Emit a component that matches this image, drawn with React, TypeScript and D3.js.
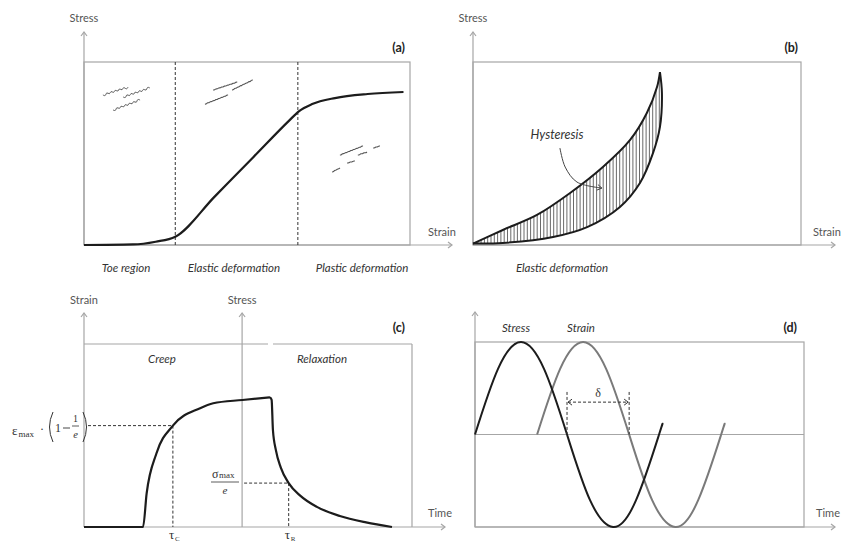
import React from "react";
import * as d3 from "d3";

// ---------- Panel (a): stress-strain curve ----------
const aStrain = [0, 15, 22, 28, 40, 52, 63, 66, 70, 77, 87, 98];
const aStress = [0, 0.3, 1.8, 4.5, 26.3, 48.1, 68.1, 73.2, 77, 80.3, 82.5, 83.6];
const aBoundaries = [28, 65.6];
const aRegionLabels = ["Toe region", "Elastic deformation", "Plastic deformation"];
const aRegionCenters = [12.9, 46, 85.3];
// fibre glyphs [x1, y1, x2, y2] in strain/stress units
const aCrimped = [
  [5.8, 82, 13.5, 86.3],
  [12, 80.9, 20.2, 85.8],
  [8.9, 73.8, 17.2, 79.2],
];
const aAligned = [
  [39.6, 84.7, 47, 89],
  [45.4, 84.7, 51.8, 90.2],
  [37.1, 77, 44.2, 82],
];
const aBroken = [
  [78.5, 49.2, 85.6, 54.1],
  [84, 49.2, 86.8, 50.8],
  [88.7, 53, 90.8, 54.1],
  [76.1, 39.9, 78.5, 42.1],
  [80.7, 44.8, 83.1, 45.9],
];

// ---------- Panel (b): hysteresis ----------
const bLoadStrain = [0, 9.1, 19.5, 29.6, 39.6, 47.9, 53, 56.1, 57];
const bLoadStress = [0.8, 8.2, 16.4, 28.4, 42.6, 57.4, 72.1, 86.3, 94.5];
const bUnloadStrain = [57, 57.6, 57, 54.9, 50.9, 44.8, 34.8, 24.4, 9.1, 0];
const bUnloadStress = [94.5, 83, 64.5, 50.3, 33.9, 20.8, 9.8, 4.4, 1.1, 0.8];
const bArrowX = [26.5, 28.1, 31.7, 39.3];
const bArrowY = [53, 42.6, 34.4, 31.1];

// ---------- Panel (c): creep & relaxation ----------
const cCreepTime = [0, 18, 19.1, 22.1, 27.1, 35.4, 39.4, 48.3, 56.7];
const cCreepStrain = [0, 0, 18.4, 40.3, 55.4, 64.9, 67.6, 69.4, 70.9];
const cRelaxTime = [56.7, 57.2, 57.6, 58.5, 60, 62.4, 66, 71, 78, 86, 93.9];
const cRelaxStress = [70.9, 69.5, 53, 42, 32.5, 24, 17, 11, 6, 2.5, 0];
const cTauC = 27.1;
const cCreepMark = 55.4;
const cTauR = 62.4;
const cRelaxMark = 24;

// ---------- Panel (d): dynamic loading ----------
const dStressT = [0, 0.5, 1, 1.5, 2, 2.5, 3, 3.5, 4, 4.06];
const dStressV = [0, 0.71, 1, 0.71, 0, -0.71, -1, -0.71, 0, 0.09];
const dStrainT = [1.35, 1.85, 2.35, 2.85, 3.35, 3.85, 4.35, 4.85, 5.35, 5.41];
const dStrainV = [0, 0.71, 1, 0.71, 0, -0.71, -1, -0.71, 0, 0.09];
const dDeltaFrom = 2;
const dDeltaTo = 3.35;

const GRAY = "#a6a6a6";
const INK = "#1c1c1c";
const SANS = "Lato, 'Open Sans', sans-serif";
const SERIF = "'Liberation Serif', 'DejaVu Serif', serif";

type Pt = [number, number];

function zip(xs: number[], ys: number[]): Pt[] {
  return xs.map((x, i) => [x, ys[i]] as Pt);
}

function chevronUp(x: number, y: number) {
  return `M${x - 3},${y + 4}L${x},${y}L${x + 3},${y + 4}`;
}
function chevronRight(x: number, y: number) {
  return `M${x - 4},${y - 3}L${x},${y}L${x - 4},${y + 3}`;
}

function wavy(x1: number, y1: number, x2: number, y2: number, wl: number, amp: number) {
  const dx = x2 - x1, dy = y2 - y1;
  const len = Math.hypot(dx, dy);
  const ux = dx / len, uy = dy / len;
  const nx = -uy, ny = ux;
  const n = Math.max(2, Math.round((len / wl) * 2));
  const pts: Pt[] = [];
  for (let i = 0; i <= n; i++) {
    const t = (i / n) * len;
    const o = i === 0 || i === n ? 0 : (i % 2 ? amp : -amp);
    pts.push([x1 + ux * t + nx * o, y1 + uy * t + ny * o]);
  }
  return d3.line().curve(d3.curveBasis)(pts) || "";
}

export default function App() {
  // scales
  const ax = d3.scaleLinear().domain([0, 100]).range([84, 410]);
  const ay = d3.scaleLinear().domain([0, 100]).range([245, 62]);
  const bx = d3.scaleLinear().domain([0, 100]).range([473, 801]);
  const by = d3.scaleLinear().domain([0, 100]).range([245, 62]);
  const cx = d3.scaleLinear().domain([0, 100]).range([84, 412]);
  const cy = d3.scaleLinear().domain([0, 100]).range([527, 344]);
  const dx = d3.scaleLinear().domain([0, 7.15]).range([475, 804]);
  const dy = d3.scaleLinear().domain([-1, 1]).range([527, 342]);

  const aLine = d3.line<Pt>().x(d => ax(d[0])).y(d => ay(d[1])).curve(d3.curveMonotoneX);
  const bLine = d3.line<Pt>().x(d => bx(d[0])).y(d => by(d[1])).curve(d3.curveCatmullRom);
  const cLine = d3.line<Pt>().x(d => cx(d[0])).y(d => cy(d[1])).curve(d3.curveMonotoneX);
  const dLine = d3.line<Pt>().x(d => dx(d[0])).y(d => dy(d[1])).curve(d3.curveNatural);

  const aPath = aLine(zip(aStrain, aStress)) || "";
  const loadPath = bLine(zip(bLoadStrain, bLoadStress)) || "";
  const unloadPath = bLine(zip(bUnloadStrain, bUnloadStress)) || "";
  const loopPath = loadPath + "L" + unloadPath.slice(1) + "Z";
  const hatchX = d3.range(bx(0) + 1.5, bx(58.5), 3.3);
  const arrowPath = d3.line<Pt>().x(d => bx(d[0])).y(d => by(d[1])).curve(d3.curveCatmullRom)(zip(bArrowX, bArrowY)) || "";
  const arrowEnd: Pt = [bx(bArrowX[3]), by(bArrowY[3])];

  const creepPath = cLine(zip(cCreepTime, cCreepStrain)) || "";
  const relaxPath = cLine(zip(cRelaxTime, cRelaxStress)) || "";

  const stressPath = dLine(zip(dStressT, dStressV)) || "";
  const strainPath = dLine(zip(dStrainT, dStrainV)) || "";

  const axisLbl = { fontFamily: SANS, fontSize: 11, fill: "#555" } as const;
  const italicLbl = { fontFamily: SANS, fontSize: 11.5, fill: "#333", fontStyle: "italic" } as const;
  const panelLbl = { fontFamily: SANS, fontSize: 12.5, fill: "#222", fontWeight: 700 } as const;
  const dash = { stroke: "#333", strokeWidth: 1, strokeDasharray: "3,2", fill: "none" } as const;

  return (
    <svg width={841} height={544} style={{ position: "absolute", left: 0, top: 0, background: "#fff" }}>
      {/* ================= Panel (a) ================= */}
      <g>
        <rect x={ax(0)} y={ay(100)} width={ax(100) - ax(0)} height={ay(0) - ay(100)} fill="none" stroke={GRAY} strokeWidth={1.2} />
        <line x1={ax(0)} y1={ay(0)} x2={ax(0)} y2={32} stroke={GRAY} strokeWidth={1.2} />
        <path d={chevronUp(ax(0), 32)} stroke={GRAY} fill="none" strokeWidth={1.2} />
        <line x1={ax(0)} y1={ay(0)} x2={452} y2={ay(0)} stroke={GRAY} strokeWidth={1.2} />
        <path d={chevronRight(452, ay(0))} stroke={GRAY} fill="none" strokeWidth={1.2} />
        <text x={ax(0)} y={22} textAnchor="middle" {...axisLbl}>Stress</text>
        <text x={428} y={236} {...axisLbl}>Strain</text>
        <text x={405} y={52} textAnchor="end" {...panelLbl}>(a)</text>
        {aBoundaries.map((b, i) => (
          <line key={i} x1={ax(b)} x2={ax(b)} y1={ay(100)} y2={ay(0)} {...dash} />
        ))}
        {aRegionLabels.map((l, i) => (
          <text key={l} x={ax(aRegionCenters[i])} y={272} textAnchor="middle" {...italicLbl}>{l}</text>
        ))}
        {aCrimped.map((s, i) => (
          <path key={"c" + i} d={wavy(ax(s[0]), ay(s[1]), ax(s[2]), ay(s[3]), 4.5, 2.2)} stroke="#555" strokeWidth={1} fill="none" />
        ))}
        {aAligned.map((s, i) => (
          <path key={"l" + i} d={wavy(ax(s[0]), ay(s[1]), ax(s[2]), ay(s[3]), 3, 0.5)} stroke="#555" strokeWidth={1.1} fill="none" />
        ))}
        {aBroken.map((s, i) => (
          <path key={"b" + i} d={wavy(ax(s[0]), ay(s[1]), ax(s[2]), ay(s[3]), 3, 0.5)} stroke="#555" strokeWidth={1.1} fill="none" />
        ))}
        <path d={aPath} stroke={INK} strokeWidth={2.2} fill="none" />
      </g>

      {/* ================= Panel (b) ================= */}
      <g>
        <defs>
          <clipPath id="hystClip">
            <path d={loopPath} />
          </clipPath>
        </defs>
        <rect x={bx(0)} y={by(100)} width={bx(100) - bx(0)} height={by(0) - by(100)} fill="none" stroke={GRAY} strokeWidth={1.2} />
        <line x1={bx(0)} y1={by(0)} x2={bx(0)} y2={32} stroke={GRAY} strokeWidth={1.2} />
        <path d={chevronUp(bx(0), 32)} stroke={GRAY} fill="none" strokeWidth={1.2} />
        <line x1={bx(0)} y1={by(0)} x2={835} y2={by(0)} stroke={GRAY} strokeWidth={1.2} />
        <path d={chevronRight(835, by(0))} stroke={GRAY} fill="none" strokeWidth={1.2} />
        <text x={bx(0)} y={22} textAnchor="middle" {...axisLbl}>Stress</text>
        <text x={813} y={236} {...axisLbl}>Strain</text>
        <text x={798} y={52} textAnchor="end" {...panelLbl}>(b)</text>
        <text x={562} y={272} textAnchor="middle" {...italicLbl}>Elastic deformation</text>
        <g clipPath="url(#hystClip)">
          {hatchX.map((x, i) => (
            <line key={i} x1={x} x2={x} y1={by(100)} y2={by(0)} stroke="#444" strokeWidth={0.8} />
          ))}
        </g>
        <path d={loadPath} stroke={INK} strokeWidth={2} fill="none" />
        <path d={unloadPath} stroke={INK} strokeWidth={2} fill="none" />
        <text x={557} y={139} textAnchor="middle" fontFamily={SANS} fontSize={12.5} fontStyle="italic" fill="#333">Hysteresis</text>
        <path d={arrowPath} stroke="#444" strokeWidth={1} fill="none" />
        <path d={`M${arrowEnd[0] - 4},${arrowEnd[1] - 3.5}L${arrowEnd[0]},${arrowEnd[1]}L${arrowEnd[0] - 5},${arrowEnd[1] + 2}`} stroke="#444" strokeWidth={1} fill="none" />
      </g>

      {/* ================= Panel (c) ================= */}
      <g>
        <line x1={cx(0)} y1={cy(100)} x2={268} y2={cy(100)} stroke={GRAY} strokeWidth={1.2} />
        <line x1={273} y1={cy(100)} x2={cx(100)} y2={cy(100)} stroke={GRAY} strokeWidth={1.2} />
        <line x1={cx(100)} y1={cy(100)} x2={cx(100)} y2={cy(0)} stroke={GRAY} strokeWidth={1.2} />
        <line x1={cx(0)} y1={cy(0)} x2={cx(0)} y2={313} stroke={GRAY} strokeWidth={1.2} />
        <path d={chevronUp(cx(0), 313)} stroke={GRAY} fill="none" strokeWidth={1.2} />
        <line x1={cx(48.2)} y1={cy(0)} x2={cx(48.2)} y2={313} stroke={GRAY} strokeWidth={1.2} />
        <path d={chevronUp(cx(48.2), 313)} stroke={GRAY} fill="none" strokeWidth={1.2} />
        <line x1={cx(0)} y1={cy(0)} x2={445} y2={cy(0)} stroke={GRAY} strokeWidth={1.2} />
        <path d={chevronRight(445, cy(0))} stroke={GRAY} fill="none" strokeWidth={1.2} />
        <text x={cx(0)} y={304} textAnchor="middle" {...axisLbl}>Strain</text>
        <text x={cx(48.2)} y={304} textAnchor="middle" {...axisLbl}>Stress</text>
        <text x={428} y={517} {...axisLbl}>Time</text>
        <text x={405} y={332} textAnchor="end" {...panelLbl}>(c)</text>
        <text x={162} y={363} textAnchor="middle" {...italicLbl}>Creep</text>
        <text x={322} y={363} textAnchor="middle" {...italicLbl}>Relaxation</text>

        {/* creep marker */}
        <line x1={88} x2={cx(cTauC)} y1={cy(cCreepMark)} y2={cy(cCreepMark)} {...dash} />
        <line x1={cx(cTauC)} x2={cx(cTauC)} y1={cy(cCreepMark)} y2={cy(0)} {...dash} />
        {/* relaxation marker */}
        <line x1={cx(48.2) + 2} x2={cx(cTauR)} y1={cy(cRelaxMark)} y2={cy(cRelaxMark)} {...dash} />
        <line x1={cx(cTauR)} x2={cx(cTauR)} y1={cy(cRelaxMark)} y2={cy(0)} {...dash} />

        <path d={creepPath} stroke={INK} strokeWidth={2.2} fill="none" />
        <path d={relaxPath} stroke={INK} strokeWidth={2.2} fill="none" />

        {/* epsilon_max (1 - 1/e) */}
        <g fontFamily={SERIF} fill="#333">
          <text x={12} y={435} fontSize={13}>ε</text>
          <text x={18.5} y={437} fontSize={9}>max</text>
          <text x={40} y={433} fontSize={12}>·</text>
          <path d="M53,412 Q46,427 53,442" stroke="#333" strokeWidth={1} fill="none" />
          <text x={55} y={432} fontSize={12}>1</text>
          <line x1={63} x2={70} y1={428} y2={428} stroke="#333" strokeWidth={0.9} />
          <text x={75.5} y={422} fontSize={10} textAnchor="middle">1</text>
          <line x1={72} x2={79} y1={426} y2={426} stroke="#333" strokeWidth={0.8} />
          <text x={75.5} y={438} fontSize={10.5} textAnchor="middle" fontStyle="italic">e</text>
          <path d="M83,412 Q90,427 83,442" stroke="#333" strokeWidth={1} fill="none" />
        </g>
        {/* sigma_max / e */}
        <g fontFamily={SERIF} fill="#333">
          <text x={212} y={478} fontSize={12}>σ</text>
          <text x={219} y={478} fontSize={9}>max</text>
          <line x1={211} x2={239} y1={482} y2={482} stroke="#333" strokeWidth={0.8} />
          <text x={225} y={494} fontSize={11} textAnchor="middle" fontStyle="italic">e</text>
        </g>
        {/* tau labels */}
        <g fontFamily={SERIF} fill="#333">
          <text x={cx(cTauC) - 4} y={539} fontSize={13}>τ</text>
          <text x={cx(cTauC) + 2} y={541} fontSize={7}>C</text>
          <text x={cx(cTauR) - 4} y={539} fontSize={13}>τ</text>
          <text x={cx(cTauR) + 2} y={541} fontSize={7}>R</text>
        </g>
      </g>

      {/* ================= Panel (d) ================= */}
      <g>
        <rect x={dx(0)} y={dy(1)} width={dx(7.15) - dx(0)} height={dy(-1) - dy(1)} fill="none" stroke={GRAY} strokeWidth={1.2} />
        <line x1={dx(0)} x2={dx(7.15)} y1={dy(0)} y2={dy(0)} stroke={GRAY} strokeWidth={1.2} />
        <line x1={dx(0)} y1={dy(-1)} x2={dx(0)} y2={312} stroke={GRAY} strokeWidth={1.2} />
        <path d={chevronUp(dx(0), 312)} stroke={GRAY} fill="none" strokeWidth={1.2} />
        <line x1={dx(0)} y1={dy(-1)} x2={835} y2={dy(-1)} stroke={GRAY} strokeWidth={1.2} />
        <path d={chevronRight(835, dy(-1))} stroke={GRAY} fill="none" strokeWidth={1.2} />
        <text x={816} y={517} {...axisLbl}>Time</text>
        <text x={797} y={332} textAnchor="end" {...panelLbl}>(d)</text>
        <text x={516} y={332} textAnchor="middle" {...italicLbl}>Stress</text>
        <text x={581} y={332} textAnchor="middle" {...italicLbl}>Strain</text>

        <path d={strainPath} stroke="#7a7a7a" strokeWidth={2} fill="none" />
        <path d={stressPath} stroke={INK} strokeWidth={2} fill="none" />

        <line x1={dx(dDeltaFrom)} x2={dx(dDeltaFrom)} y1={dy(0.46)} y2={dy(0)} {...dash} />
        <line x1={dx(dDeltaTo)} x2={dx(dDeltaTo)} y1={dy(0.46)} y2={dy(0)} {...dash} />
        <line x1={dx(dDeltaFrom) + 1} x2={dx(dDeltaTo) - 1} y1={dy(0.35)} y2={dy(0.35)} {...dash} />
        <path d={`M${dx(dDeltaFrom) + 5},${dy(0.35) - 3}L${dx(dDeltaFrom) + 1},${dy(0.35)}L${dx(dDeltaFrom) + 5},${dy(0.35) + 3}`} stroke="#333" fill="none" strokeWidth={1} />
        <path d={`M${dx(dDeltaTo) - 5},${dy(0.35) - 3}L${dx(dDeltaTo) - 1},${dy(0.35)}L${dx(dDeltaTo) - 5},${dy(0.35) + 3}`} stroke="#333" fill="none" strokeWidth={1} />
        <text x={(dx(dDeltaFrom) + dx(dDeltaTo)) / 2} y={397} textAnchor="middle" fontFamily={SERIF} fontSize={12} fill="#333">δ</text>
      </g>
    </svg>
  );
}
